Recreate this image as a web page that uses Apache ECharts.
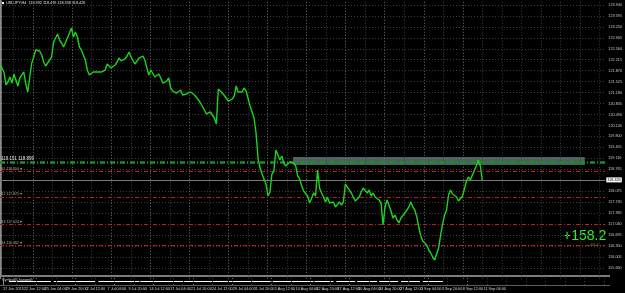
<!DOCTYPE html>
<html>
<head>
<meta charset="utf-8">
<script src="https://cdn.jsdelivr.net/npm/echarts@6/dist/echarts.min.js"></script>
<style>
  html, body { margin: 0; padding: 0; background: #000; }
  #chart { width: 625px; height: 293px; }
</style>
</head>
<body>
<div id="chart"></div>
<script>
// --- data ---
const titleText = "USDJPY,H4  118.392 118.476 118.358 118.426";

const timeLabels = [
  "17 Jun 2015", "22 Jun 12:00", "25 Jun 04:00", "29 Jun 20:00", "2 Jul 12:00",
  "7 Jul 04:00", "9 Jul 20:00", "14 Jul 12:00", "17 Jul 04:00", "21 Jul 20:00",
  "24 Jul 12:00", "29 Jul 04:00", "31 Jul 20:00", "5 Aug 12:00", "10 Aug 04:00",
  "12 Aug 20:00", "17 Aug 12:00", "20 Aug 04:00", "24 Aug 20:00", "27 Aug 12:00",
  "1 Sep 04:00", "3 Sep 20:00", "8 Sep 12:00", "11 Sep 04:00"
];

// right-hand price scale: bottom label and step
const priceMin = 115.315;
const priceStep = 0.345;

// close prices, one sample every ~1.5 bars
const closes = [
  122.050, 121.955, 121.829, 121.419, 121.514, 121.671, 121.482, 121.766, 121.577, 121.388,
  121.640, 121.735, 121.829, 121.451, 121.199, 121.671, 122.113, 122.302, 122.522, 122.554,
  122.491, 122.365, 122.144, 122.018, 122.081, 122.207, 122.302, 122.774, 122.743, 123.026,
  122.837, 122.743, 122.617, 122.585, 122.900, 122.837, 123.215, 122.932, 123.089, 122.932,
  122.617, 122.522, 122.365, 122.207, 121.892, 121.735, 121.798, 121.829, 121.798, 121.829,
  121.861, 121.829, 121.892, 121.892, 122.081, 122.018, 121.955, 121.987, 122.050, 122.144,
  122.270, 122.176, 122.176, 122.239, 122.333, 122.459, 122.302, 122.270, 122.081, 122.113,
  122.270, 122.333, 122.333, 122.207, 121.955, 121.735, 121.892, 121.829, 121.671, 121.671,
  121.766, 121.640, 121.482, 121.482, 121.545, 121.640, 121.325, 121.230, 121.199, 121.167,
  121.167, 121.262, 121.104, 121.041, 121.136, 121.199, 121.199, 121.167, 121.104, 121.041,
  120.947, 120.852, 120.790, 120.632, 120.506, 120.537, 120.569, 120.474, 120.380, 120.191,
  121.293, 121.230, 121.167, 121.136, 121.010, 120.915, 120.915, 120.978, 121.073, 121.388,
  121.199, 121.230, 121.199, 121.325, 121.230, 121.167, 120.758, 120.695, 120.380, 119.907,
  119.119, 118.804, 118.615, 118.458, 118.300, 117.922, 118.048, 118.615, 118.710, 119.372,
  119.214, 119.056, 119.182, 118.962, 118.867, 118.804, 118.993, 119.056, 118.962, 118.867,
  118.552, 118.458, 118.237, 118.080, 118.017, 117.922, 117.702, 117.859, 118.017, 117.922,
  118.741, 118.174, 118.017, 117.891, 117.733, 117.891, 117.702, 117.639, 117.733, 117.576,
  117.639, 117.733, 117.639, 117.733, 118.300, 118.268, 118.111, 118.017, 117.954, 117.765,
  117.796, 117.891, 118.048, 118.174, 118.111, 118.017, 118.111, 117.922, 118.017, 117.891,
  117.859, 117.796, 117.702, 117.009, 117.576, 117.796, 117.733, 117.450, 117.229, 117.324,
  117.166, 117.072, 117.229, 117.229, 117.387, 117.481, 117.576, 117.733, 117.576, 117.481,
  117.261, 116.945, 116.662, 116.504, 116.441, 116.378, 116.221, 116.126, 116.000, 115.906,
  116.095, 116.284, 116.694, 117.040, 117.324, 117.481, 117.954, 118.111, 117.985, 118.048,
  117.891, 117.765, 117.796, 117.922, 118.143, 118.395, 118.521, 118.426, 118.584, 118.647,
  118.867, 119.056, 118.867, 118.426
];
const barStep = 1.524;

const levelLabels = ["S1 118.694", "S2 117.875", "S3 117.024", "S4 116.362"];
const levelValues = [118.694, 117.875, 117.024, 116.362];
const greenLevel = 118.993;
const greenLabel = "119.151 118.899";
const zone = { fromBar: 225, toBar: 449, top: 119.151, bottom: 118.899 };

const indicatorSegments = [
  [4.6, 36.6], [38.9, 70.9], [73.1, 104.4], [105.1, 137.9], [138.7, 172.2],
  [173, 205], [206.5, 237.7], [238.5, 253], [255.2, 269.7], [271.2, 286.5],
  [288, 302.5], [304.8, 319.2], [321.5, 336.8]
];
const indicatorName = "Symbol(Changed)";
const profitMain = "+158.2";
const profitSub = "+63.3";

// --- chart geometry ---
const labelEvery = 16;   // bars between time labels
const gridEvery = 15;    // bars between vertical grid lines
const gridStart = 10.4;  // bar of the first vertical grid line
const weekStart = 25.4;  // bar of the first week separator
const lastBar = (closes.length - 1) * barStep;
const xMax = 464.76;
const priceMax = 124.0975;
const mainHeight = (priceMax - priceMin) / 0.0315068;

const pricePoints = closes.map((c, i) => [i * barStep, c]);
const lastPrice = closes[closes.length - 1];
const indicatorPoints = [];
indicatorSegments.forEach(s => {
  indicatorPoints.push([s[0], 1], [s[1], 1], [s[1], null]);
});

const vLines = [];
for (let b = gridStart; b < xMax; b += gridEvery) {
  const k = (b - weekStart) / (2 * gridEvery);
  const week = Math.abs(k - Math.round(k)) < 0.01 && b <= lastBar;
  vLines.push({
    xAxis: b,
    lineStyle: { color: week ? "#6c7474" : "#34403f", type: [1, 2], width: 1 },
    label: { show: false }
  });
}

const smallFont = "'Liberation Sans', Arial, sans-serif";
const dotted = { color: "#34403f", type: [1, 2], width: 1 };

const chart = echarts.init(document.getElementById("chart"));
chart.setOption({
  backgroundColor: "#000",
  animation: false,
  grid: [
    { left: 0, right: 15, top: 0, height: mainHeight },
    { left: 0, right: 15, top: 278, height: 7 }
  ],
  xAxis: [
    {
      gridIndex: 0, type: "value", min: 0, max: xMax, interval: labelEvery,
      axisLine: { show: false }, axisTick: { show: false }, axisLabel: { show: false },
      splitLine: { show: false }
    },
    {
      gridIndex: 1, type: "value", min: 0, max: xMax, interval: labelEvery,
      axisLine: { show: false }, axisTick: { show: false },
      axisLabel: {
        margin: 2, fontSize: 3.8, color: "#d4d4d4", fontFamily: smallFont, align: "left",
        showMaxLabel: false,
        formatter: v => timeLabels[Math.round(v / labelEvery)] || ""
      },
      splitLine: { show: false }
    }
  ],
  yAxis: [
    {
      gridIndex: 0, type: "value", position: "right", min: priceMin, max: priceMax, interval: priceStep,
      axisLine: { show: true, lineStyle: { color: "#8a8a8a", width: 1 } },
      axisTick: { show: true, length: 2, lineStyle: { color: "#8a8a8a" } },
      axisLabel: {
        margin: 3, fontSize: 3.8, color: "#c8c8c8", fontFamily: smallFont,
        showMinLabel: false, showMaxLabel: false, formatter: v => v.toFixed(3)
      },
      splitLine: { show: true, showMinLine: false, showMaxLine: false, lineStyle: dotted }
    },
    {
      gridIndex: 1, type: "value", position: "right", min: 0, max: 2,
      axisLine: { show: true, lineStyle: { color: "#8a8a8a" } },
      axisTick: { show: false }, axisLabel: { show: false }, splitLine: { show: false }
    }
  ],
  series: [
    {
      type: "line", xAxisIndex: 0, yAxisIndex: 0, data: pricePoints, z: 5,
      showSymbol: false, lineStyle: { color: "#1cd41c", width: 1.4 },
      markArea: {
        silent: true,
        itemStyle: { color: "rgba(120,160,160,0.6)" },
        data: [[{ xAxis: zone.fromBar, yAxis: zone.top }, { xAxis: zone.toBar, yAxis: zone.bottom }]]
      },
      markLine: {
        silent: true, symbol: "none", animation: false,
        data: [
          ...vLines,
          {
            yAxis: greenLevel,
            lineStyle: { color: "#1f8f1f", width: 2.5, type: [5, 2, 1, 2] },
            label: { show: true, position: "insideStartTop", formatter: greenLabel, color: "#e8e8e8", fontSize: 4.5, fontFamily: smallFont, distance: 1 }
          },
          ...levelValues.map((v, i) => ({
            yAxis: v,
            lineStyle: { color: "#c41c1c", width: 1, type: [4, 2, 1, 2] },
            label: { show: true, position: "insideStartTop", formatter: levelLabels[i] + " \u25be", color: "#a8a8a8", fontSize: 3.6, fontFamily: smallFont, distance: 1 }
          })),
          {
            yAxis: lastPrice,
            lineStyle: { color: "#7a7a7a", width: 1, type: "solid" },
            label: {
              show: true, position: "end", distance: 1, formatter: lastPrice.toFixed(3),
              backgroundColor: "#ffffff", color: "#000", fontSize: 3.8, fontFamily: smallFont, padding: [1, 1, 0, 1]
            }
          }
        ]
      }
    },
    {
      type: "line", xAxisIndex: 1, yAxisIndex: 1, data: indicatorPoints, connectNulls: false,
      showSymbol: false, lineStyle: { color: "#ffffff", width: 1 },
      markLine: { silent: true, symbol: "none", animation: false, data: vLines }
    }
  ],
  graphic: [
    { type: "rect", shape: { x: 0, y: 275, width: 610, height: 2 }, style: { fill: "#7c7c7c" } },
    { type: "rect", shape: { x: 0, y: 285, width: 610, height: 1 }, style: { fill: "#5a5a5a" } },
    { type: "rect", shape: { x: 1, y: 0, width: 1, height: 276 }, style: { fill: "#6a6a6a" } },
    { type: "rect", shape: { x: 2, y: 2, width: 2, height: 2 }, style: { fill: "#ffffff" } },
    { type: "text", x: 6, y: 1, style: { text: titleText, fill: "#e0e0e0", fontSize: 3.8, fontFamily: smallFont } },
    { type: "text", x: 2, y: 278, style: { text: indicatorName, fill: "#d0d0d0", fontSize: 3.8, fontFamily: smallFont } },
    { type: "text", x: 563, y: 229, style: { text: profitMain, fill: "#2cf02c", fontSize: 14, fontFamily: smallFont } },
    { type: "text", x: 588, y: 243, style: { text: profitSub, fill: "#22b822", fontSize: 4.2, fontFamily: smallFont } }
  ]
});
</script>
</body>
</html>
